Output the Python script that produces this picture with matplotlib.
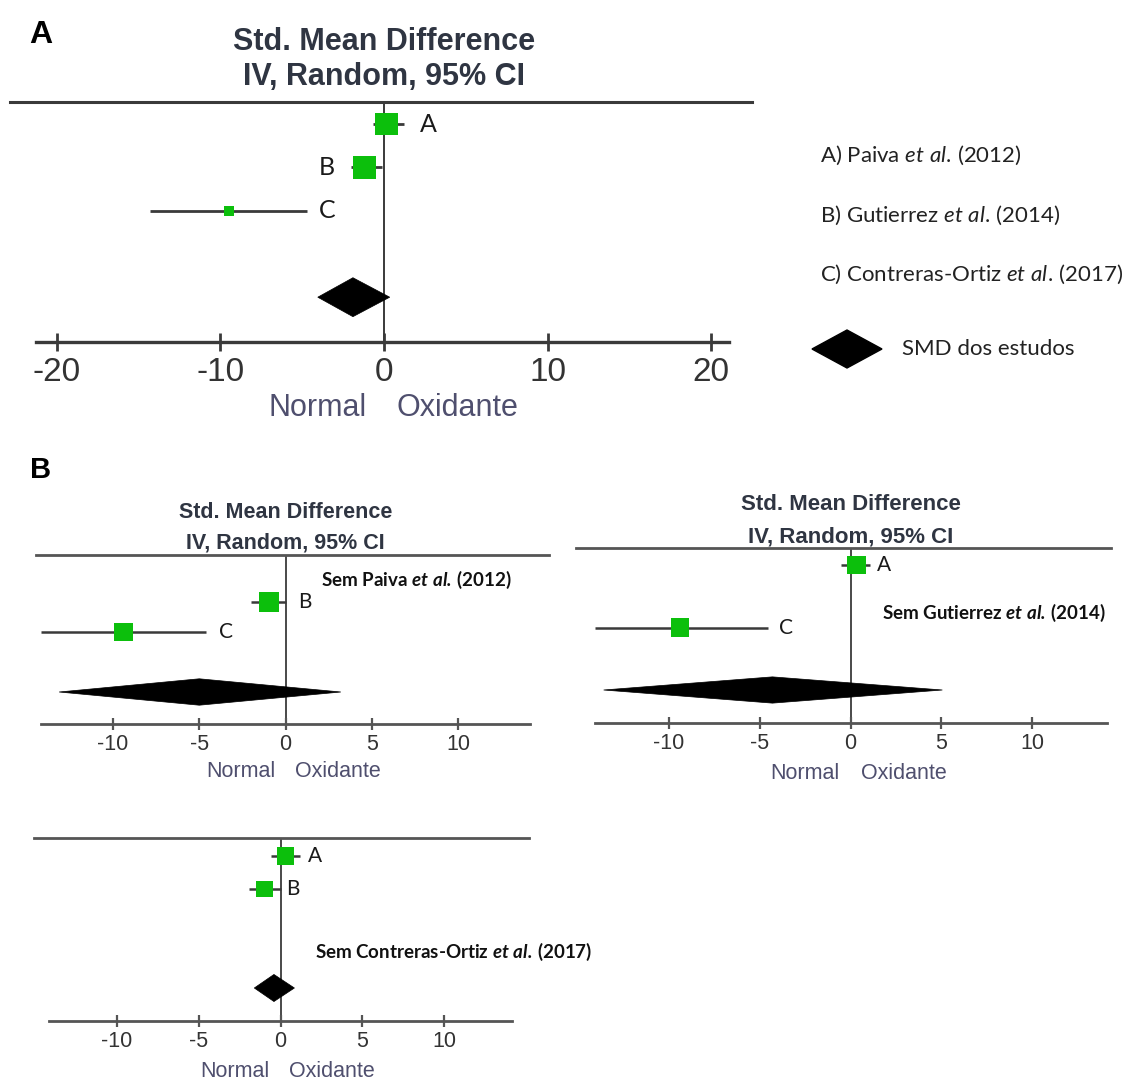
import numpy as np
import matplotlib
matplotlib.use("Agg")
import matplotlib.pyplot as plt
from matplotlib.patches import Polygon

plt.rcParams["axes.unicode_minus"] = False
plt.rcParams["mathtext.fontset"] = "custom"
plt.rcParams["mathtext.rm"] = "Lato"
plt.rcParams["mathtext.it"] = "Lato:italic"
plt.rcParams["mathtext.bf"] = "Lato:bold"
plt.rcParams["mathtext.bfit"] = "Lato:bold:italic"

# ---- data: standardized mean differences (IV, random effects, 95% CI) ----
study_ids = ["A", "B", "C"]
study_names = ["Paiva", "Gutierrez", "Contreras-Ortiz"]
study_years = [2012, 2014, 2017]

# all three studies
all_ids = ["A", "B", "C"]
all_est = [0.15, -1.2, -9.5]
all_lo = [-0.65, -2.0, -14.3]
all_hi = [1.2, -0.1, -4.7]
all_wt = [45.0, 46.0, 9.0]
all_pooled = [-1.9, -4.05, 0.35]  # estimate, lower, upper

# leave-one-out: without Paiva (2012)
semA_ids = ["B", "C"]
semA_est = [-0.96, -9.4]
semA_lo = [-1.99, -14.15]
semA_hi = [0.04, -4.58]
semA_wt = [50.5, 49.5]
semA_pooled = [-4.99, -13.1, 3.2]

# leave-one-out: without Gutierrez (2014)
semB_ids = ["A", "C"]
semB_est = [0.33, -9.4]
semB_lo = [-0.55, -14.05]
semB_hi = [1.05, -4.57]
semB_wt = [50.0, 50.0]
semB_pooled = [-4.3, -13.6, 5.06]

# leave-one-out: without Contreras-Ortiz (2017)
semC_ids = ["A", "B"]
semC_est = [0.28, -0.95]
semC_lo = [-0.57, -1.95]
semC_hi = [1.2, 0.06]
semC_wt = [50.5, 49.5]
semC_pooled = [-0.4, -1.6, 0.85]

ticks_big = [-20, -10, 0, 10, 20]
ticks_small = [-10, -5, 0, 5, 10]

GREEN = "#0cbf0c"
TITLE_C = "#2f3542"
SIDE_C = "#4f4f6e"
NARROW = ["Liberation Sans Narrow", "Liberation Sans"]
SANS = ["Liberation Sans", "DejaVu Sans"]
LATO = ["Lato", "DejaVu Sans"]

W, H = 1141, 1082
fig = plt.figure(figsize=(W / 100, H / 100), dpi=100)


def px_axes(left, top, right, bottom):
    return fig.add_axes([left / W, 1 - bottom / H, (right - left) / W, (bottom - top) / H])


def draw_forest(box, axis_span, zero_px, ppu, row1_px, row_px, rows, pooled_row,
                ids, est, lo, hi, wt, pooled, ticks, st):
    left, top, right, bottom = box
    ax = px_axes(left, top, right, bottom)
    ax.patch.set_alpha(0)
    ax.set_xlim((left - zero_px) / ppu, (right - zero_px) / ppu)
    ax.set_ylim(1 + (bottom - row1_px) / row_px, 1 + (top - row1_px) / row_px)

    ax.spines["left"].set_visible(False)
    ax.spines["right"].set_visible(False)
    ax.spines["top"].set_linewidth(st["frame_lw"])
    ax.spines["top"].set_color(st["line_c"])
    ax.spines["bottom"].set_linewidth(st["axis_lw"])
    ax.spines["bottom"].set_color(st["line_c"])
    ax.spines["bottom"].set_bounds((axis_span[0] - zero_px) / ppu, (axis_span[1] - zero_px) / ppu)
    ax.set_yticks([])
    ax.set_xticks(ticks)
    ax.set_xticklabels([str(t) for t in ticks], fontsize=st["tick_fs"],
                       family=st["tick_font"], color="#333333")
    ax.tick_params(axis="x", direction="inout", length=st["tick_len"],
                   width=st["tick_w"], color=st["line_c"], pad=st["tick_pad"])

    ax.axvline(0, color="#3a3a3a", lw=st["zero_lw"], zorder=1)
    ax.hlines(rows, lo, hi, color="#3a3a3a", lw=st["ci_lw"], zorder=2)
    side = (st["sq_scale"] * np.sqrt(wt) * 0.72) ** 2
    ax.scatter(est, rows, marker="s", s=side, color=GREEN, linewidths=0, zorder=3)

    est_p, lo_p, hi_p = pooled
    h = st["dia_half"]
    ax.add_patch(Polygon([(lo_p, pooled_row), (est_p, pooled_row - h),
                          (hi_p, pooled_row), (est_p, pooled_row + h)],
                         closed=True, fc="black", ec="black", lw=0.5, zorder=4))

    for i, lab in enumerate(ids):
        if st["sides"][i] == "right":
            ax.annotate(lab, xy=(hi[i], rows[i]), xytext=(st["gaps"][i], 0),
                        textcoords="offset pixels", ha="left", va="center",
                        fontsize=st["lab_fs"], family=LATO, color="#1a1a1a")
        else:
            ax.annotate(lab, xy=(lo[i], rows[i]), xytext=(-st["gaps"][i], 0),
                        textcoords="offset pixels", ha="right", va="center",
                        fontsize=st["lab_fs"], family=LATO, color="#1a1a1a")

    ax.annotate("Normal", xy=(0, 0), xycoords=("data", "axes fraction"),
                xytext=(-st["side_gap"][0], -st["side_dy"]), textcoords="offset pixels",
                ha="right", va="baseline", fontsize=st["side_fs"], family=SANS, color=SIDE_C)
    ax.annotate("Oxidante", xy=(0, 0), xycoords=("data", "axes fraction"),
                xytext=(st["side_gap"][1], -st["side_dy"]), textcoords="offset pixels",
                ha="left", va="baseline", fontsize=st["side_fs"], family=SANS, color=SIDE_C)

    if st.get("title_dy"):
        for line, dy in zip(["Std. Mean Difference", "IV, Random, 95% CI"], st["title_dy"]):
            ax.annotate(line, xy=(0, 1), xycoords=("data", "axes fraction"),
                        xytext=(0, dy), textcoords="offset pixels", ha="center",
                        va="baseline", fontsize=st["title_fs"], fontweight="bold",
                        family=SANS, color=TITLE_C)
    return ax


big_style = dict(frame_lw=2.2, axis_lw=2.4, line_c="#3a3a3a", tick_fs=24, tick_font=NARROW,
                 tick_len=13, tick_w=2.0, tick_pad=4, zero_lw=1.4, ci_lw=2.0,
                 sq_scale=3.4, dia_half=0.45, sides=["right", "left", "right"],
                 gaps=[16, 16, 12], lab_fs=18, side_fs=22, side_gap=(17, 12), side_dy=74,
                 title_fs=22, title_dy=(52, 17))

small_base = dict(frame_lw=2.0, axis_lw=2.0, line_c="#555555", tick_fs=15.5, tick_font=SANS,
                  tick_len=8.6, tick_w=1.6, tick_pad=3, zero_lw=1.3, ci_lw=1.8,
                  lab_fs=15, side_fs=15.5, title_fs=15.5)

# panel A: all studies
draw_forest((10, 102, 752, 342), (36, 729), 384, 16.35, 124, 43.3, [1, 2, 3], 5,
            all_ids, all_est, all_lo, all_hi, all_wt, all_pooled, ticks_big, big_style)

# panel B: leave-one-out analyses
stA = dict(small_base, sq_scale=2.7, dia_half=0.44, sides=["right", "right"], gaps=[12, 13],
           side_gap=(10, 9), side_dy=53, title_dy=(37, 7))
draw_forest((36, 555, 549, 724), (41, 530), 285.5, 17.28, 602, 30.0, [1, 2], 4,
            semA_ids, semA_est, semA_lo, semA_hi, semA_wt, semA_pooled, ticks_small, stA)

stB = dict(small_base, sq_scale=2.55, dia_half=0.42, sides=["right", "right"], gaps=[7, 11],
           side_gap=(11, 10), side_dy=56, title_dy=(38, 6), title_fs=16)
draw_forest((576, 548, 1111, 723), (595, 1107), 850.5, 18.15, 565, 31.25, [1, 3], 5,
            semB_ids, semB_est, semB_lo, semB_hi, semB_wt, semB_pooled, ticks_small, stB)

stC = dict(small_base, sq_scale=2.4, dia_half=0.41, sides=["right", "right"], gaps=[8, 5],
           side_gap=(11, 8), side_dy=56)
draw_forest((34, 838, 529, 1021), (49, 512), 280.5, 16.38, 856, 33.0, [1, 2], 5,
            semC_ids, semC_est, semC_lo, semC_hi, semC_wt, semC_pooled, ticks_small, stC)

# "Sem ..." captions
for name, year, (x, y) in zip(study_names, study_years, [(321, 580), (882, 613), (315, 952)]):
    fig.text(x / W, 1 - y / H, f"Sem {name} $\\mathbfit{{et\\ al.}}\\,$({year})",
             ha="left", va="center", fontsize=13.5, fontweight="bold", family=LATO,
             color="#111111")

# legend on the right of panel A
leg = px_axes(790, 110, 1141, 390)
leg.set_xlim(790, 1141)
leg.set_ylim(390, 110)
leg.axis("off")
for sid, name, year, y in zip(study_ids, study_names, study_years, [155, 215, 274]):
    leg.text(820, y, f"{sid}) {name} $\\mathit{{et\\ al.}}\\,$({year})", ha="left",
             va="center", fontsize=16, family=LATO, color="#222222")
leg.add_patch(Polygon([(812, 349), (847, 330), (882, 349), (847, 368)], closed=True,
                      fc="black", ec="black"))
leg.text(902, 349, "SMD dos estudos", ha="left", va="center", fontsize=16,
         family=LATO, color="#222222")

# panel letters
fig.text(29 / W, 1 - 43 / H, "A", fontsize=23, fontweight="bold", family=SANS, color="black")
fig.text(30 / W, 1 - 478 / H, "B", fontsize=21, fontweight="bold", family=SANS, color="black")

fig.savefig("out.png", dpi=100)
